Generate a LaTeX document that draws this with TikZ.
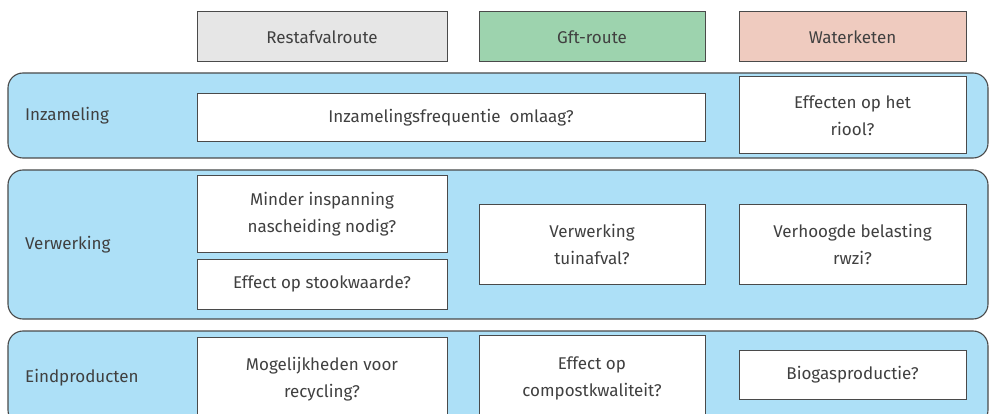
\documentclass[tikz,border=0pt]{standalone}
\usepackage{fontspec}
\setmainfont{Fira Sans}
\usetikzlibrary{positioning}

\definecolor{bandblue}{HTML}{ADE0F7}
\definecolor{restgray}{HTML}{E6E6E6}
\definecolor{gftgreen}{HTML}{9DD3AE}
\definecolor{watersalmon}{HTML}{EFCBBF}
\definecolor{edgegray}{HTML}{4A4A4A}
\definecolor{txtgray}{HTML}{404040}

\begin{document}
\begin{tikzpicture}[
    x=1pt, y=-1pt,
    every node/.style={text=txtgray, font=\fontsize{17}{27}\selectfont},
    band/.style={draw=edgegray, line width=1.1pt, fill=bandblue, rounded corners=15pt},
    bandlabel/.style={anchor=west, inner sep=0pt},
    qbox/.style={draw=edgegray, line width=1pt, fill=white, align=center, inner sep=0pt},
    headbox/.style={qbox, minimum height=50pt}
]

% vaste afmetingen van de figuur
\clip (0,0) rectangle (990,414);

% Kolomkoppen
\node[headbox, fill=restgray, minimum width=250pt] (rest) at (322,37) {Restafvalroute};
\node[headbox, fill=gftgreen, minimum width=226pt] (gft) at (592,37) {Gft-route};
\node[headbox, fill=watersalmon, minimum width=227pt] (water) at (852.5,37) {Waterketen};

% Banden
\draw[band] (8,73) rectangle (988,158);
\draw[band] (8,170) rectangle (988,319);
\draw[band] (8,331) rectangle (988,425);

\node[bandlabel] (inz) at (25,116) {Inzameling};
\node[bandlabel] (verw) at (25,245) {Verwerking};
\node[bandlabel] (eind) at (25,378) {Eindproducten};

% Inzameling
\node[qbox, minimum width=508pt, minimum height=48pt] (freq) at (451,118) {Inzamelingsfrequentie\ \ omlaag?};
\node[qbox, minimum width=227pt, minimum height=77pt] (riool) at (852.5,115.5) {Effecten op het\\riool?};

% Verwerking
\node[qbox, minimum width=250pt, minimum height=76pt] (nasch) at (322,214) {Minder inspanning\\nascheiding nodig?};
\node[qbox, minimum width=250pt, minimum height=50pt] (stook) at (322,284) {Effect op stookwaarde?};
\node[qbox, minimum width=226pt, minimum height=79pt] (tuin) at (592,244.5) {Verwerking\\tuinafval?};
\node[qbox, minimum width=227pt, minimum height=79pt] (rwzi) at (852.5,244.5) {Verhoogde belasting\\rwzi?};

% Eindproducten
\node[qbox, minimum width=250pt, minimum height=84pt] (recyc) at (322,379) {Mogelijkheden voor\\recycling?};
\node[qbox, minimum width=226pt, minimum height=86pt] (compost) at (592,378) {Effect op\\compostkwaliteit?};
\node[qbox, minimum width=227pt, minimum height=49pt] (biogas) at (852.5,374.5) {Biogasproductie?};

\end{tikzpicture}
\end{document}
